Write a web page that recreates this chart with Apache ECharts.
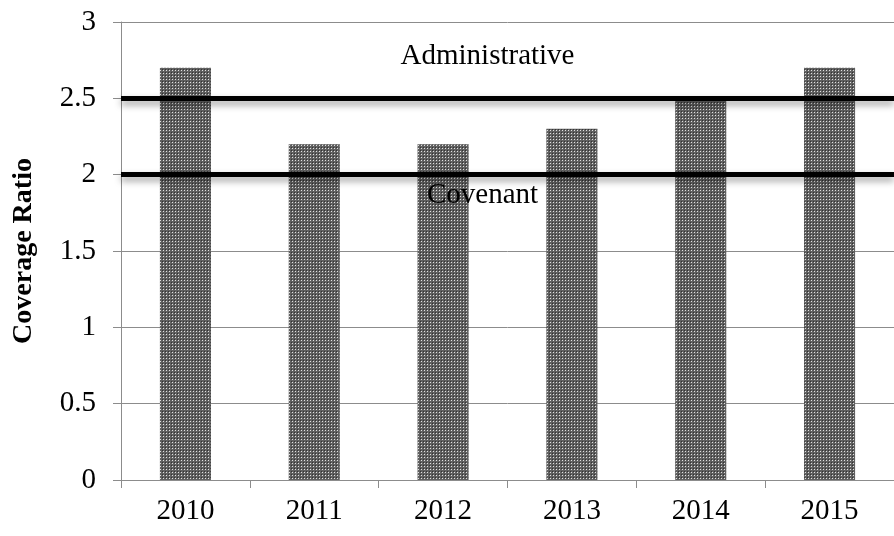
<!DOCTYPE html>
<html><head><meta charset="utf-8">
<script src="https://cdn.jsdelivr.net/npm/echarts@6/dist/echarts.min.js"></script>
<style>html,body{margin:0;padding:0;background:#fff}#c{width:894px;height:536px}</style>
</head><body><div id="c"></div>
<script>
const categories = ['2010','2011','2012','2013','2014','2015'];
const coverage = [2.7, 2.2, 2.2, 2.3, 2.5, 2.7];
const thresholds = [
  {name: 'Administrative', value: 2.5},
  {name: 'Covenant', value: 2.0}
];
const yTicks = [0, 0.5, 1, 1.5, 2, 2.5, 3];

const pc = document.createElement('canvas');
pc.width = 3; pc.height = 3;
const g = pc.getContext('2d');
g.fillStyle = '#606060'; g.fillRect(0,0,3,3);
g.fillStyle = '#e0e0e0'; g.fillRect(1,1,1,1);
g.fillStyle = '#333333'; g.fillRect(0,0,1,1);

const font = 'Liberation Serif, Times New Roman, serif';
const chart = echarts.init(document.getElementById('c'), null, {renderer:'canvas'});
chart.setOption({
  animation: false,
  grid: {left: 121, top: 22, width: 780, height: 458, containLabel: false},
  xAxis: {
    type: 'category', data: categories,
    axisLine: {lineStyle: {color: '#8c8c8c', width: 1}},
    axisTick: {show: true, length: 8, lineStyle: {color: '#8c8c8c'}},
    axisLabel: {fontFamily: font, fontSize: 29, color: '#000', margin: 17}
  },
  yAxis: {
    type: 'value', min: yTicks[0], max: yTicks[yTicks.length-1], interval: 0.5,
    name: 'Coverage Ratio', nameLocation: 'middle', nameGap: 83,
    nameTextStyle: {fontFamily: font, fontSize: 28, fontWeight: 'bold', color: '#000'},
    axisLine: {show: true, lineStyle: {color: '#8c8c8c', width: 1}},
    axisTick: {show: true, length: 8, lineStyle: {color: '#8c8c8c'}},
    axisLabel: {fontFamily: font, fontSize: 29, color: '#000', margin: 25},
    splitLine: {lineStyle: {color: '#8c8c8c', width: 1}}
  },
  series: [{
    type: 'bar', data: coverage, barWidth: 51,
    itemStyle: {color: {image: pc, repeat: 'repeat'}},
    markLine: {
      symbol: 'none', silent: true,
      lineStyle: {color: '#000', width: 5, type: 'solid', shadowColor: 'rgba(0,0,0,0.4)', shadowBlur: 7, shadowOffsetY: 4},
      data: [
        {yAxis: thresholds[0].value, label: {show: true, formatter: thresholds[0].name, position: 'insideMiddleTop', distance: 27, offset: [-20, 0], fontFamily: font, fontSize: 29, color: '#000'}},
        {yAxis: thresholds[1].value, label: {show: true, formatter: thresholds[1].name, position: 'insideMiddleBottom', distance: 6, offset: [-25, 0], fontFamily: font, fontSize: 29, color: '#000'}}
      ]
    }
  }]
});
</script></body></html>
